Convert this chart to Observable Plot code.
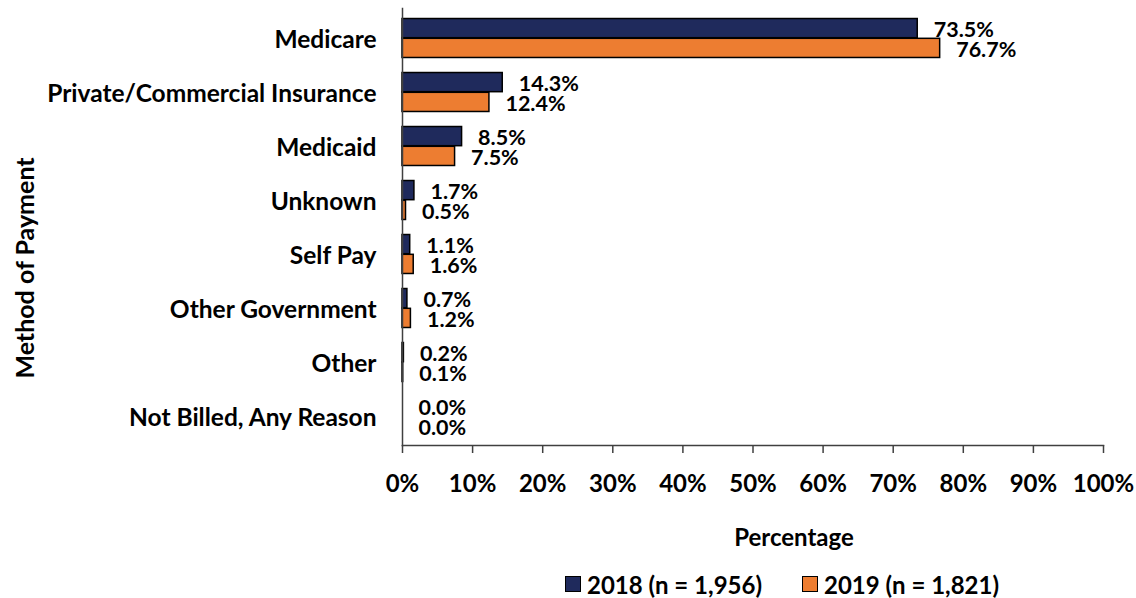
<!DOCTYPE html>
<html>
<head>
<meta charset="utf-8">
<script src="https://cdn.jsdelivr.net/npm/d3@7"></script>
<script src="https://cdn.jsdelivr.net/npm/@observablehq/plot@0.6"></script>
<style>
  html, body { margin: 0; padding: 0; background: #fff; }
  body { width: 1136px; height: 598px; overflow: hidden; font-family: Lato, "Open Sans", sans-serif; }
  #legend { height: 28px; display: flex; align-items: center; padding-left: 565px; font-weight: 700; font-size: 24px; color: #000; white-space: pre; }
  .item { display: flex; align-items: center; }
  .sw { width: 16px; height: 16px; border: 1px solid #000; box-sizing: border-box; margin-right: 6px; }
</style>
</head>
<body>
<div id="chart"></div>
<div id="legend"></div>
<script>
const categories = ["Medicare", "Private/Commercial Insurance", "Medicaid", "Unknown", "Self Pay", "Other Government", "Other", "Not Billed, Any Reason"];
const values2018 = [73.5, 14.3, 8.5, 1.7, 1.1, 0.7, 0.2, 0.0];
const values2019 = [76.7, 12.4, 7.5, 0.5, 1.6, 1.2, 0.1, 0.0];
const seriesNames = ["2018 (n = 1,956)", "2019 (n = 1,821)"];
const seriesColors = ["#1f2a5c", "#ed7d31"];
const xTicks = [0, 10, 20, 30, 40, 50, 60, 70, 80, 90, 100];

const d2018 = categories.map((c, i) => ({cat: c, v: values2018[i]}));
const d2019 = categories.map((c, i) => ({cat: c, v: values2019[i]}));

const font = "Lato, 'Open Sans', sans-serif";
const bandH = (445 - 8) / categories.length;
const barH = 19.8;
const half = bandH / 2;

const chart = Plot.plot({
  width: 1136,
  height: 570,
  marginLeft: 402,
  marginRight: 33,
  marginTop: 8,
  marginBottom: 125,
  style: {fontFamily: font, fontWeight: 700, color: "#000", background: "#fff"},
  x: {domain: [0, 100], ticks: xTicks, tickFormat: d => d + "%", label: null},
  y: {domain: categories, padding: 0, label: null},
  marks: [
    Plot.barX(d2018, {x: "v", y: "cat", fill: seriesColors[0], stroke: "#000", strokeWidth: 1.5, insetTop: half - barH, insetBottom: half}),
    Plot.barX(d2019, {x: "v", y: "cat", fill: seriesColors[1], stroke: "#000", strokeWidth: 1.5, insetTop: half, insetBottom: half - barH}),
    Plot.text(d2018, {x: "v", y: "cat", text: d => d.v.toFixed(1) + "%", textAnchor: "start", dx: 16, dy: -8.5, fontSize: 21.5, fontWeight: 700, fill: "#000"}),
    Plot.text(d2019, {x: "v", y: "cat", text: d => d.v.toFixed(1) + "%", textAnchor: "start", dx: 16, dy: 12, fontSize: 21.5, fontWeight: 700, fill: "#000"}),
    Plot.frame({anchor: "left", stroke: "#404040", strokeWidth: 1.5}),
    Plot.frame({anchor: "bottom", stroke: "#404040", strokeWidth: 1.5}),
    Plot.axisX({ticks: xTicks, tickFormat: d => d + "%", tickSize: 8, tickPadding: 21, fontSize: 24, fontWeight: 700, stroke: "#404040", strokeWidth: 1.5, label: null}),
    Plot.axisY({tickSize: 0, tickPadding: 26, fontSize: 24.5, fontWeight: 700, dy: 2, label: null}),
    Plot.text(["Percentage"], {frameAnchor: "bottom", dx: 41, dy: 93, fontSize: 24, fontWeight: 700, fill: "#000", lineAnchor: "middle"}),
    Plot.text(["Method of Payment"], {frameAnchor: "left", textAnchor: "middle", rotate: -90, dx: -377, dy: 41, fontSize: 25, fontWeight: 700, fill: "#000"})
  ]
});
document.getElementById("chart").appendChild(chart);

const legend = document.getElementById("legend");
seriesNames.forEach((name, i) => {
  const item = document.createElement("div");
  item.className = "item";
  if (i > 0) item.style.marginLeft = "40px";
  const sw = document.createElement("div");
  sw.className = "sw";
  sw.style.background = seriesColors[i];
  const label = document.createElement("span");
  label.textContent = name;
  item.appendChild(sw);
  item.appendChild(label);
  legend.appendChild(item);
});
</script>
</body>
</html>
